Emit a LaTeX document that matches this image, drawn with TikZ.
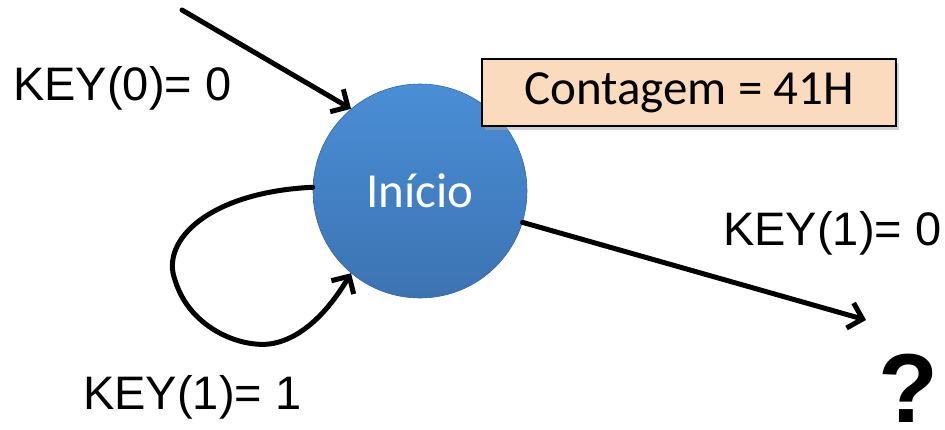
\documentclass[tikz,border=0pt]{standalone}
\usepackage{fontspec}
\setmainfont{Liberation Sans}
\newfontfamily\calibrilike{Carlito}
\usetikzlibrary{arrows.meta,shadows}
\definecolor{stateblue}{HTML}{4A8ED6}
\definecolor{statebluedark}{HTML}{3C73B2}
\definecolor{peach}{HTML}{FBDBBE}
\begin{document}
\begin{tikzpicture}[x=1pt,y=-1pt,
  conn/.style={line width=5pt, line cap=round, line join=round,
    -{Straight Barb[length=13pt,width=26pt,line width=5pt]}},
  lbl/.style={font=\fontsize{47}{52}\selectfont, inner sep=0pt, anchor=base west},
  statenode/.style={circle, minimum size=214pt, inner sep=0pt,
    top color=stateblue, bottom color=statebluedark, draw=statebluedark!90!black, line width=0.6pt,
    text=white, font=\calibrilike\fontsize{49}{54}\selectfont},
  notebox/.style={draw=black, line width=1.6pt, fill=peach, minimum width=414pt, minimum height=67pt,
    inner sep=0pt, font=\calibrilike\fontsize{49}{54}\selectfont,
    drop shadow={shadow xshift=3pt, shadow yshift=-4pt, fill=black!35, opacity=0.5}}]
  \useasboundingbox (0,0) rectangle (945,429);

  % state and counter note
  \node[statenode] (inicio) at (420,191) {Início};
  \node[notebox] (cont) at (689,92.5) {Contagem = 41H};

  % free ends of the connectors
  \coordinate (src) at (182,10);
  \coordinate (dst) at (866,320);

  % incoming edge
  \draw[conn] (src) -- (inicio.130);
  % outgoing edge
  \draw[conn] (inicio.-17) -- (dst);
  % self loop
  \draw[conn] (inicio.178) .. controls (210,192) and (160,240) .. (175,280)
      .. controls (190,330) and (245,350) .. (275,343)
      .. controls (310,335) and (335,300) .. (inicio.-130);

  % labels
  \node[lbl] (k0) at (13,100) {KEY(0)= 0};
  \node[lbl] (k10) at (723,245) {KEY(1)= 0};
  \node[lbl] (k11) at (83,409) {KEY(1)= 1};
  \node[font=\bfseries\fontsize{98}{102}\selectfont, inner sep=0pt, anchor=base west] (q) at (878,422) {?};
\end{tikzpicture}
\end{document}
